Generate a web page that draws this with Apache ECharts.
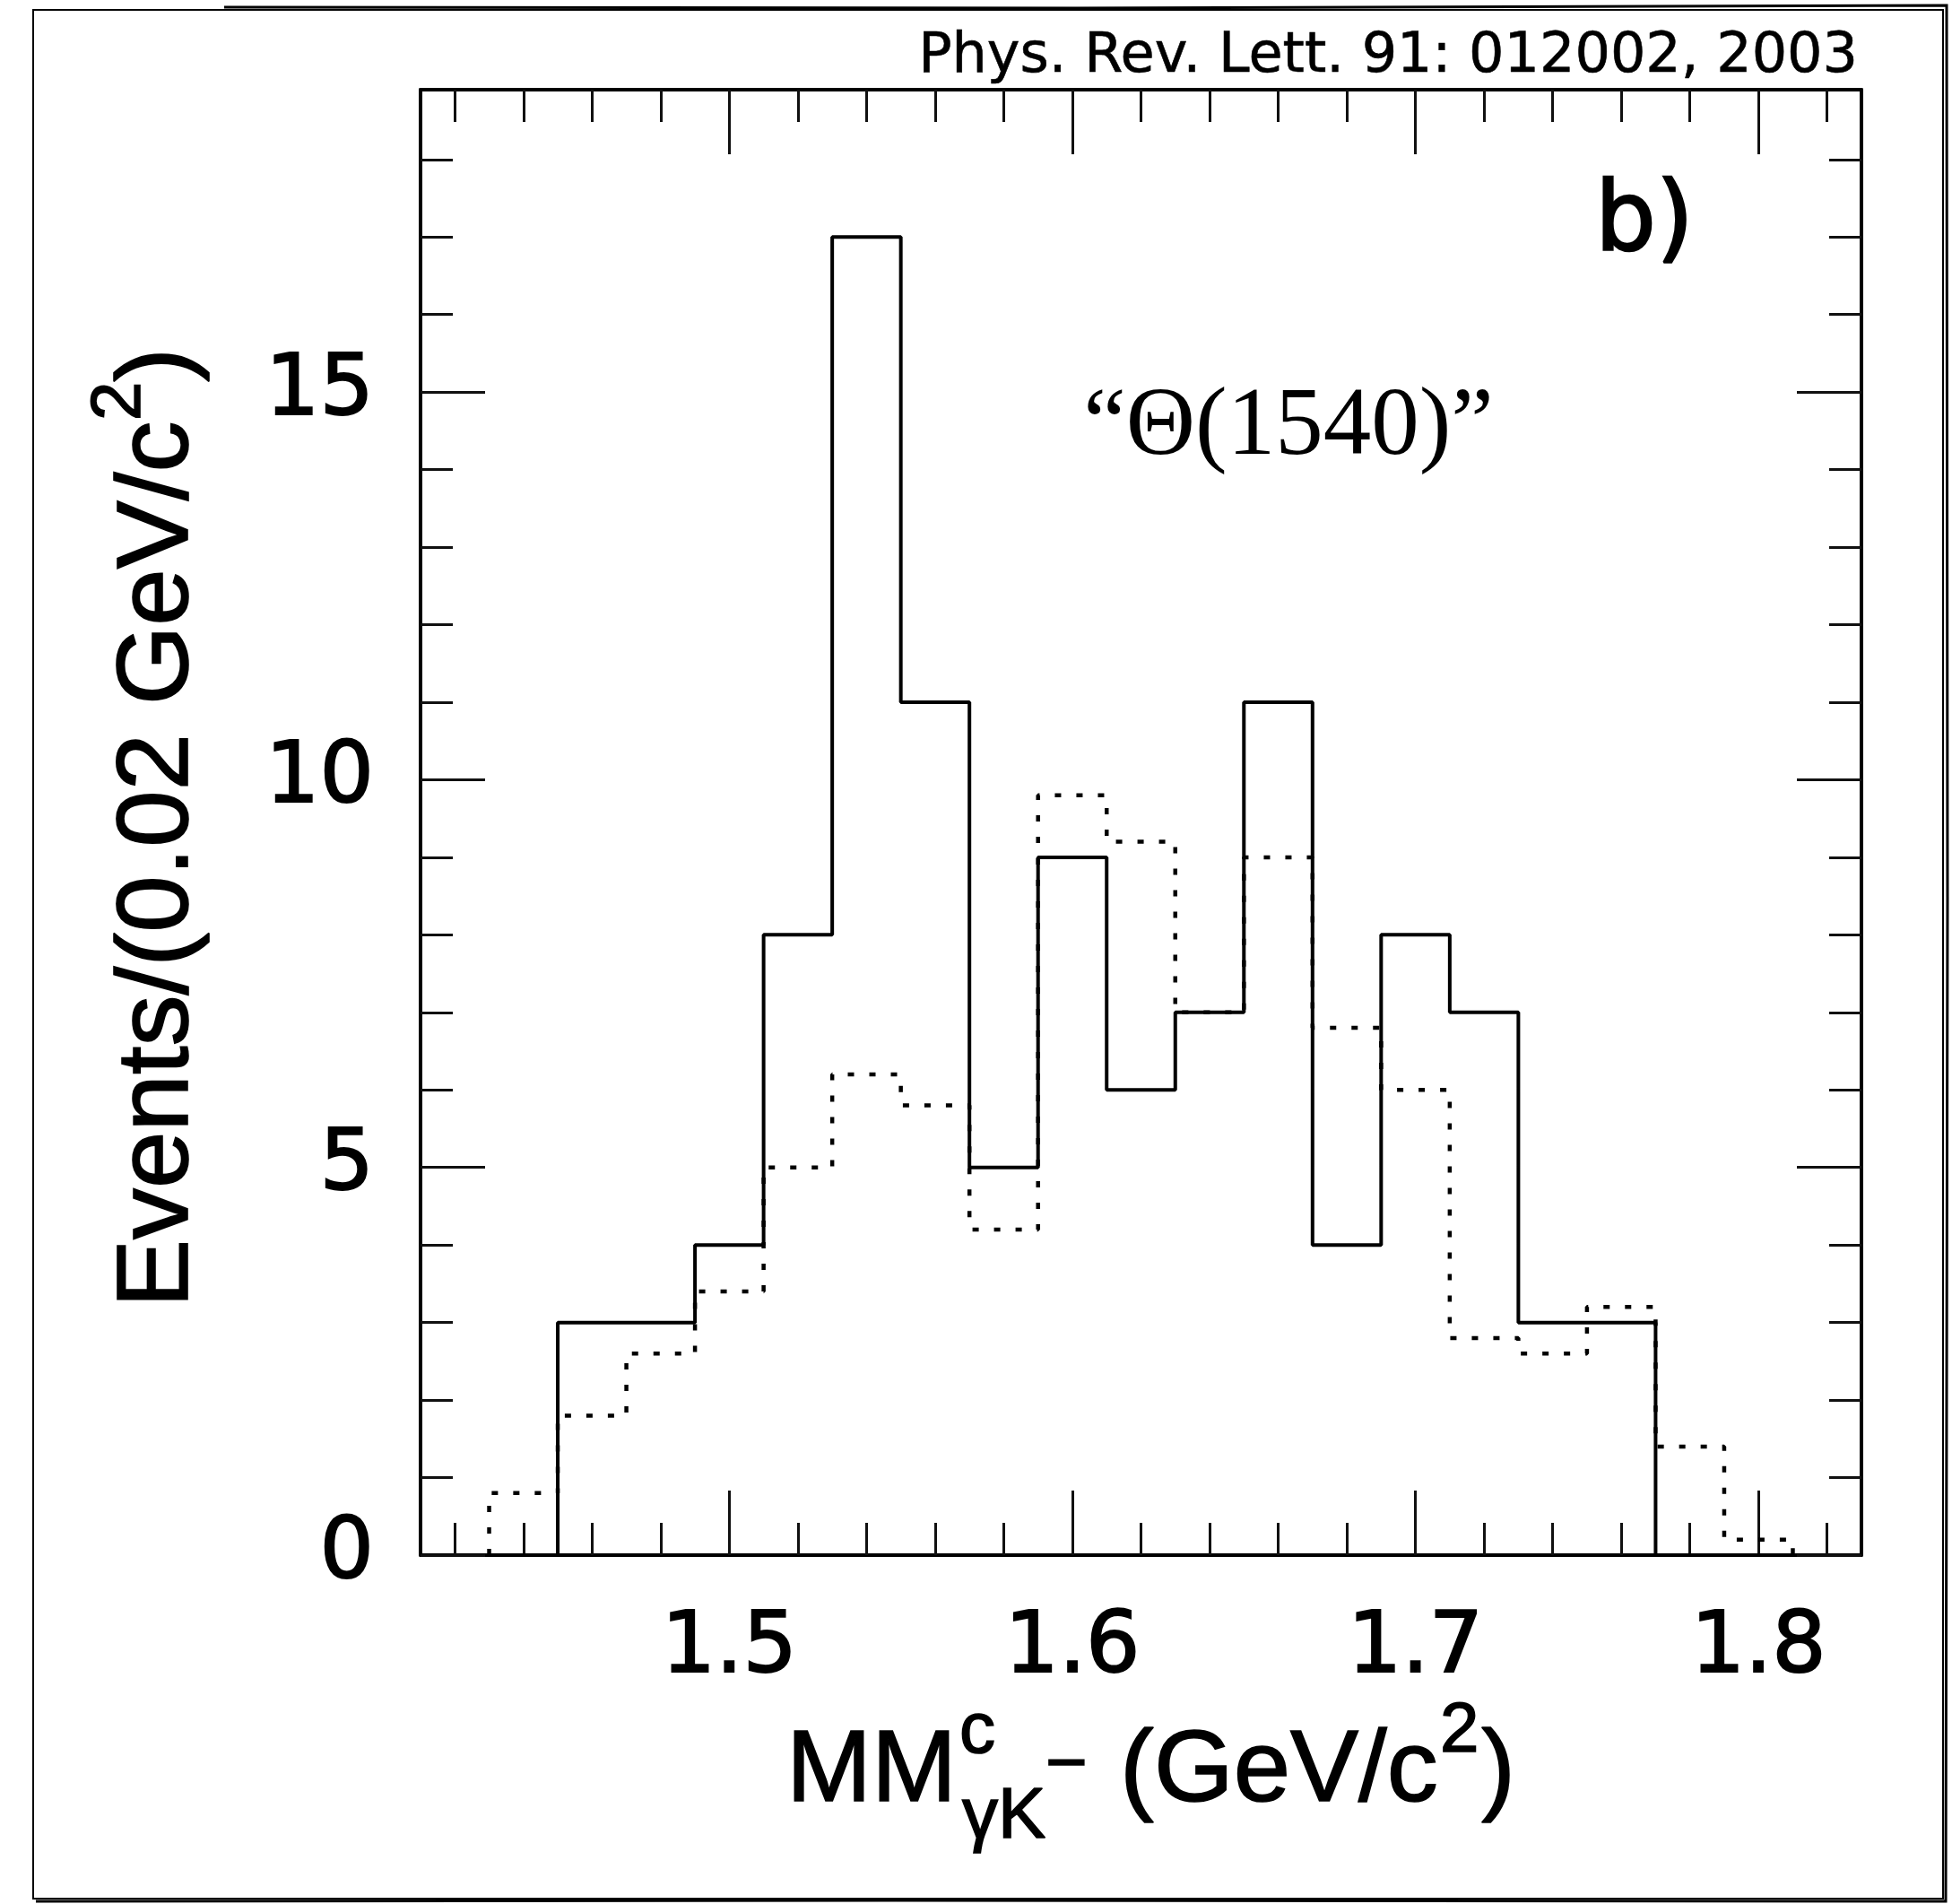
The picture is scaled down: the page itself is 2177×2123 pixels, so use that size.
<!DOCTYPE html>
<html><head><meta charset="utf-8">
<script src="https://cdn.jsdelivr.net/npm/echarts@6/dist/echarts.min.js"></script>
<style>html,body{margin:0;padding:0;background:#fff}#c{width:2177px;height:2123px}</style>
</head><body><div id="c"></div>
<script>
// ---- data ----
const binEdges = [1.43,1.45,1.47,1.49,1.51,1.53,1.55,1.57,1.59,1.61,1.63,1.65,1.67,1.69,1.71,1.73,1.75,1.77,1.79,1.81];
const dataCounts = [0,3,3,4,8,17,11,5,9,6,7,11,4,8,7,3,3,0,0];
const simCounts  = [0.8,1.8,2.6,3.4,5.0,6.2,5.8,4.2,9.8,9.2,7.0,9.0,6.8,6.0,2.8,2.6,3.2,1.4,0.2];
const xMajorTicks = [1.5,1.6,1.7,1.8];
const xMinorTicks = [1.42,1.44,1.46,1.48,1.52,1.54,1.56,1.58,1.62,1.64,1.66,1.68,1.72,1.74,1.76,1.78,1.82];
const yMajorTicks = [0,5,10,15];
const yMinorTicks = [1,2,3,4,6,7,8,9,11,12,13,14,16,17,18];
const xRange = [1.41, 1.83];
const yRange = [0, 18.9];

function histPoints(edges, counts) {
  const pts = [[edges[0], 0]];
  counts.forEach((v, i) => pts.push([edges[i], v]));
  pts.push([edges[counts.length], counts[counts.length - 1]]);
  pts.push([edges[counts.length], 0]);
  return pts;
}

const SANS = 'DejaVu Sans';
const ARIAL = 'Liberation Sans';
const tickStyle = {color: '#111', width: 3};
const heavy = {textBorderColor: '#000', textBorderWidth: 2};

function xAxisDef(pos, ticks, len, line, labels) {
  return {
    type: 'value', position: pos, offset: 0, min: xRange[0], max: xRange[1],
    axisLine: {show: line, onZero: false, lineStyle: {color: '#000', width: 4}},
    axisTick: {show: true, inside: true, length: len, customValues: ticks, lineStyle: tickStyle},
    axisLabel: Object.assign({show: labels, customValues: ticks, margin: 58, fontFamily: SANS, fontSize: 95, color: '#000',
      formatter: v => v.toFixed(1)}, heavy),
    splitLine: {show: false}
  };
}
function yAxisDef(pos, ticks, len, line, labels) {
  return {
    type: 'value', position: pos, offset: 0, min: yRange[0], max: yRange[1],
    axisLine: {show: line, onZero: false, lineStyle: {color: '#000', width: 4}},
    axisTick: {show: true, inside: true, length: len, customValues: ticks, lineStyle: tickStyle},
    axisLabel: Object.assign({show: labels, customValues: ticks, margin: 52, fontFamily: SANS, fontSize: 95, color: '#000'}, heavy),
    splitLine: {show: false}
  };
}
function txt(x, y, text, family, size, extra) {
  return {type: 'text', x: x, y: y, style: Object.assign({text: text, fontFamily: family, fontSize: size, fill: '#000',
    align: 'left', verticalAlign: 'middle', stroke: '#000', lineWidth: 1.6}, extra || {})};
}

const chart = echarts.init(document.getElementById('c'), null, {renderer: 'canvas'});
const option = {
  animation: false,
  backgroundColor: '#fff',
  grid: {left: 469, top: 100, width: 1607, height: 1634, containLabel: false},
  xAxis: [
    xAxisDef('bottom', xMajorTicks, 72, true, true),
    xAxisDef('bottom', xMinorTicks, 36, false, false),
    xAxisDef('top', xMajorTicks, 72, true, false),
    xAxisDef('top', xMinorTicks, 36, false, false)
  ],
  yAxis: [
    yAxisDef('left', yMajorTicks, 72, true, true),
    yAxisDef('left', yMinorTicks, 36, false, false),
    yAxisDef('right', yMajorTicks, 72, true, false),
    yAxisDef('right', yMinorTicks, 36, false, false)
  ],
  series: [
    {type: 'line', name: 'simulation', step: 'end', symbol: 'none', xAxisIndex: 0, yAxisIndex: 0,
     data: histPoints(binEdges, simCounts),
     lineStyle: {color: '#000', width: 4.5, type: [7, 17], cap: 'butt'}, z: 3},
    {type: 'line', name: 'data', step: 'end', symbol: 'none', xAxisIndex: 0, yAxisIndex: 0,
     data: histPoints(binEdges, dataCounts),
     lineStyle: {color: '#000', width: 4}, z: 4}
  ],
  graphic: [
    // sketchy outer frame
    {type: 'rect', shape: {x: 37, y: 11, width: 2130, height: 2106}, style: {fill: null, stroke: '#000', lineWidth: 2}},
    {type: 'polyline', shape: {points: [[250, 8], [1200, 9], [2171, 6], [2172, 1000], [2170, 2120], [1000, 2119], [40, 2120]]},
     style: {fill: null, stroke: '#000', lineWidth: 3}},
    // citation
    txt(2072, 64, 'Phys. Rev. Lett. 91: 012002, 2003', SANS, 62, {align: 'right', lineWidth: 0.6}),
    // panel label
    txt(1779, 250, 'b)', SANS, 107, {lineWidth: 2.5}),
    // annotation
    txt(1437, 478, '\u201C\u0398(1540)\u201D', 'Liberation Serif', 107, {align: 'center', lineWidth: 0}),
    // x-axis title
    {type: 'group', children: [
      txt(877, 1977, 'MM', ARIAL, 114),
      txt(1070, 1932, 'c', ARIAL, 80),
      txt(1073, 2027, '\u03B3K', ARIAL, 80),
      txt(1166, 1970, '\u2212', ARIAL, 80),
      txt(1249, 1977, '(GeV/c', ARIAL, 114),
      txt(1606, 1931, '2', ARIAL, 78),
      txt(1652, 1977, ')', ARIAL, 114)
    ]},
    // y-axis title (rotated)
    {type: 'group', x: 178, y: 1458, rotation: Math.PI / 2, children: [
      txt(0, 0, 'Events/(0.02 GeV/c', ARIAL, 114),
      txt(989, -44, '2', ARIAL, 78),
      txt(1032, 0, ')', ARIAL, 114)
    ]}
  ]
};
chart.setOption(option);
</script></body></html>
